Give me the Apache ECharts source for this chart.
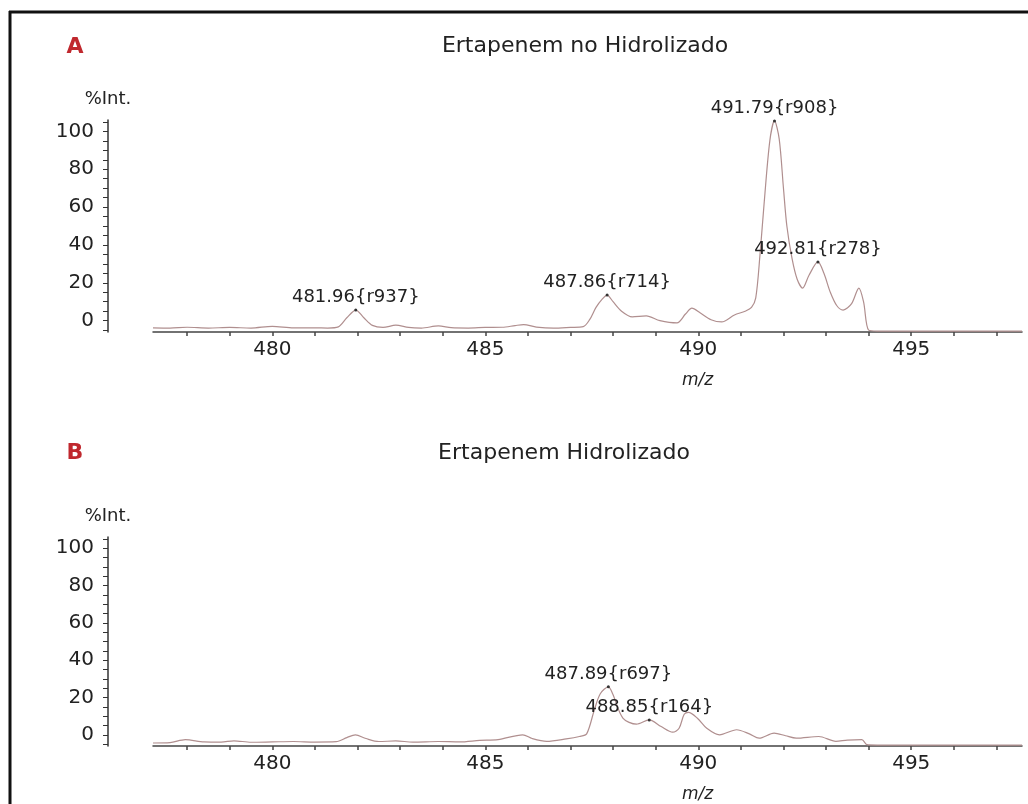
<!DOCTYPE html>
<html>
<head>
<meta charset="utf-8">
<script src="https://cdn.jsdelivr.net/npm/echarts@6/dist/echarts.min.js"></script>
<style>
html,body{margin:0;padding:0;background:#fff;}
#main{width:1028px;height:804px;}
</style>
</head>
<body>
<div id="main"></div>
<script>
// A: Ertapenem no Hidrolizado  (m/z, %Int.)
var mzA = [477.2, 477.6, 478.0, 478.5, 479.0, 479.5, 480.0, 480.5, 481.0, 481.3, 481.55, 481.75, 481.96, 482.15, 482.35, 482.6, 482.9, 483.2, 483.5, 483.9, 484.2, 484.6, 485.0, 485.4, 485.7, 485.9, 486.2, 486.6, 487.0, 487.3, 487.45, 487.6, 487.75, 487.86, 488.0, 488.2, 488.45, 488.78, 489.1, 489.5, 489.7, 489.85, 490.05, 490.3, 490.55, 490.85, 491.1, 491.25, 491.35, 491.45, 491.55, 491.68, 491.79, 491.9, 492.0, 492.08, 492.2, 492.32, 492.45, 492.6, 492.81, 492.95, 493.1, 493.25, 493.4, 493.6, 493.77, 493.88, 494.0, 494.2, 495.5, 497.6];
var intA = [-3.8, -3.9, -3.5, -3.9, -3.6, -3.9, -3.0, -3.8, -3.8, -3.9, -3.3, 1.5, 5.6, 1.5, -2.5, -3.6, -2.4, -3.6, -3.9, -2.8, -3.7, -3.9, -3.6, -3.5, -2.6, -2.1, -3.4, -4.0, -3.6, -3.2, 0.5, 7, 11.5, 13.5, 10, 5, 2, 2.5, 0, -1.2, 3.5, 6.6, 4, 0.5, -0.7, 3, 5, 7, 12, 35, 63, 95, 105.5, 96, 70, 50, 33, 22, 17.2, 24, 31, 25, 15, 8, 5.6, 9, 17.2, 10, -5, -5.5, -5.5, -5.5];
var peakMzA = [481.96, 487.86, 491.79, 492.81];
var peakTagA = ['r937', 'r714', 'r908', 'r278'];

// B: Ertapenem Hidrolizado
var mzB = [477.2, 477.6, 477.96, 478.4, 478.8, 479.1, 479.5, 480.0, 480.5, 481.0, 481.5, 481.75, 481.95, 482.2, 482.5, 482.9, 483.3, 483.9, 484.4, 484.87, 485.3, 485.88, 486.1, 486.44, 486.9, 487.21, 487.38, 487.56, 487.7, 487.89, 487.99, 488.23, 488.55, 488.85, 489.13, 489.4, 489.55, 489.67, 489.77, 489.98, 490.2, 490.5, 490.9, 491.2, 491.43, 491.78, 492.05, 492.3, 492.83, 493.23, 493.5, 493.84, 493.96, 494.2, 495.5, 497.6];
var intB = [-4.4, -4.2, -2.6, -3.8, -3.9, -3.2, -4.0, -3.8, -3.6, -3.9, -3.7, -1.5, 0, -2, -3.6, -3.3, -3.9, -3.6, -3.8, -3.0, -2.6, 0, -2, -3.5, -2.2, -0.9, 0.5, 13.3, 22, 25.7, 22, 9, 5.7, 8, 4.4, 1.4, 3.5, 11, 12, 8.9, 3.5, 0, 2.7, 0.5, -1.8, 0.9, -0.5, -1.8, -0.9, -3.5, -2.8, -2.6, -5.3, -5.5, -5.5, -5.5];
var peakMzB = [487.89, 488.85];
var peakTagB = ['r697', 'r164'];

var xTicks = [478, 479, 480, 481, 482, 483, 484, 485, 486, 487, 488, 489, 490, 491, 492, 493, 494, 495, 496, 497];
var xLabels = [480, 485, 490, 495];
var yTicks = [-5, 0, 5, 10, 15, 20, 25, 30, 35, 40, 45, 50, 55, 60, 65, 70, 75, 80, 85, 90, 95, 100, 105];
var yLabels = [0, 20, 40, 60, 80, 100];

var FONT = 'DejaVu Sans';

function buildData(mz, val, peakMz, peakTag) {
    return mz.map(function (x, i) {
        var k = peakMz.indexOf(x);
        if (k < 0) return [x, val[i]];
        var txt = x.toFixed(2) + '{' + peakTag[k] + '}';
        return {
            value: [x, val[i]],
            symbol: 'circle',
            symbolSize: 3,
            itemStyle: { color: '#333' },
            label: {
                show: true,
                position: 'top',
                distance: 2,
                color: '#222',
                fontSize: 18,
                fontFamily: FONT,
                formatter: function () { return txt; }
            }
        };
    });
}

function xAxisOf(idx) {
    return {
        type: 'value',
        gridIndex: idx,
        min: 477.2,
        max: 497.6,
        name: 'm/z',
        nameLocation: 'middle',
        nameGap: 40,
        nameTextStyle: { fontStyle: 'italic', fontSize: 17, color: '#222', fontFamily: FONT, padding: [0, 0, 0, 220] },
        axisLine: { onZero: false, lineStyle: { color: '#444', width: 1.5 } },
        axisTick: { show: true, length: 4, customValues: xTicks, lineStyle: { color: '#444', width: 1.5 } },
        axisLabel: { customValues: xLabels, color: '#222', fontSize: 20, fontFamily: FONT, margin: 8 },
        splitLine: { show: false }
    };
}

function yAxisOf(idx) {
    return {
        type: 'value',
        gridIndex: idx,
        min: -6,
        max: 106,
        offset: 45,
        name: '%Int.',
        nameLocation: 'end',
        nameGap: 12,
        nameTextStyle: { fontSize: 18, color: '#222', fontFamily: FONT },
        axisLine: { show: true, lineStyle: { color: '#333', width: 1.5 } },
        axisTick: { show: true, length: 5, customValues: yTicks, lineStyle: { color: '#333', width: 1 } },
        axisLabel: { customValues: yLabels, color: '#222', fontSize: 20, fontFamily: FONT, margin: 14 },
        splitLine: { show: false }
    };
}

function lineOf(idx, data) {
    return {
        type: 'line',
        xAxisIndex: idx,
        yAxisIndex: idx,
        data: data,
        symbol: 'none',
        smooth: 0.3,
        lineStyle: { color: '#b08f8f', width: 1.2 },
        emphasis: { disabled: true },
        z: 3
    };
}

var chart = echarts.init(document.getElementById('main'));
var option = {
    animation: false,
    backgroundColor: '#fff',
    grid: [
        { left: 153, right: 6, top: 120, height: 212 },
        { left: 153, right: 6, top: 537, height: 211 }
    ],
    xAxis: [xAxisOf(0), xAxisOf(1)],
    yAxis: [yAxisOf(0), yAxisOf(1)],
    series: [
        lineOf(0, buildData(mzA, intA, peakMzA, peakTagA)),
        lineOf(1, buildData(mzB, intB, peakMzB, peakTagB))
    ],
    graphic: [
        { type: 'line', shape: { x1: 10, y1: 11, x2: 10, y2: 804 }, style: { stroke: '#111', lineWidth: 3 } },
        { type: 'line', shape: { x1: 9, y1: 12, x2: 1028, y2: 12 }, style: { stroke: '#111', lineWidth: 3 } },
        { type: 'text', x: 75, y: 47, style: { text: 'A', fill: '#c0282e', font: 'bold 22px "DejaVu Sans"', align: 'center', verticalAlign: 'middle', textAlign: 'center', textVerticalAlign: 'middle' } },
        { type: 'text', x: 585, y: 46, style: { text: 'Ertapenem no Hidrolizado', fill: '#222', font: '22px "DejaVu Sans"', align: 'center', verticalAlign: 'middle', textAlign: 'center', textVerticalAlign: 'middle' } },
        { type: 'text', x: 75, y: 453, style: { text: 'B', fill: '#c0282e', font: 'bold 22px "DejaVu Sans"', align: 'center', verticalAlign: 'middle', textAlign: 'center', textVerticalAlign: 'middle' } },
        { type: 'text', x: 564, y: 453, style: { text: 'Ertapenem Hidrolizado', fill: '#222', font: '22px "DejaVu Sans"', align: 'center', verticalAlign: 'middle', textAlign: 'center', textVerticalAlign: 'middle' } }
    ]
};
chart.setOption(option);
</script>
</body>
</html>
